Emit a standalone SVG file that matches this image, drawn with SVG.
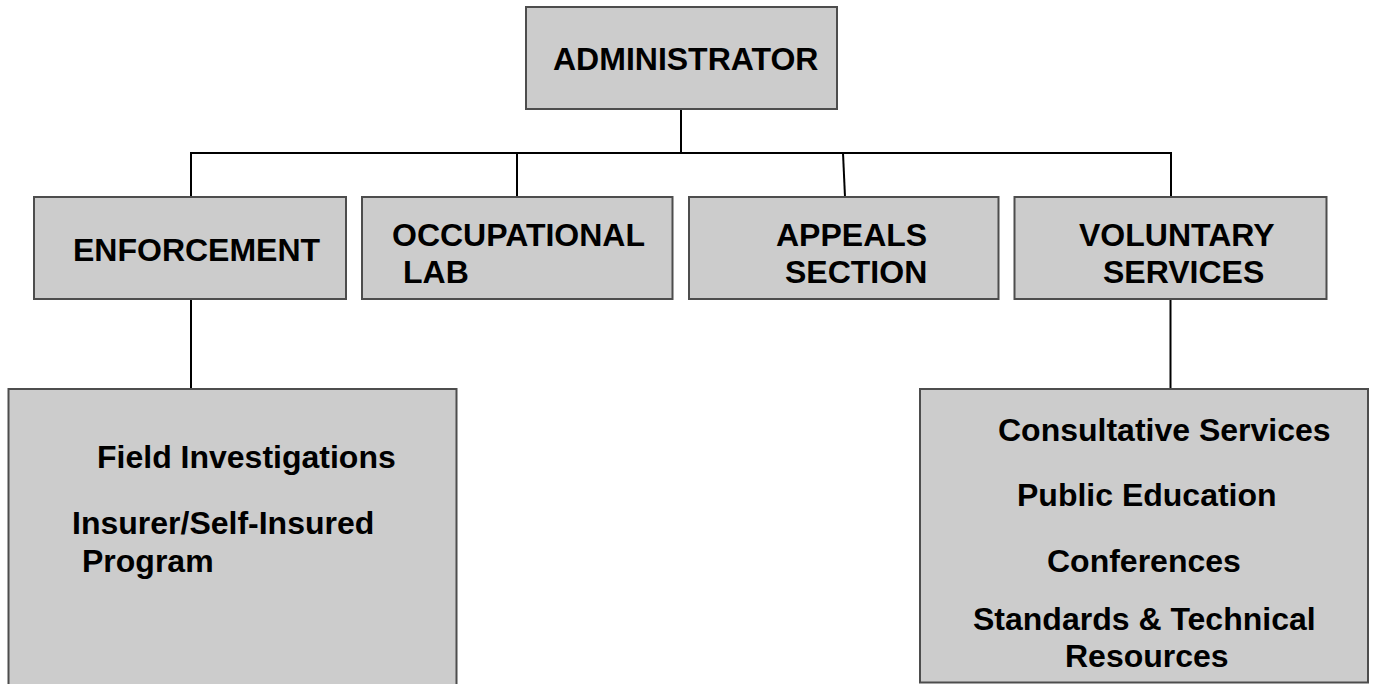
<svg xmlns="http://www.w3.org/2000/svg" width="1374" height="684" viewBox="0 0 1374 684">
<style>
.box{fill:#cccccc;stroke:#4d4d4d;stroke-width:2}
.t{font-family:"Liberation Sans",Arial,sans-serif;font-weight:bold;font-size:32px;fill:#000}
.c{fill:none;stroke:#000;stroke-width:2}
</style>
<rect width="1374" height="684" fill="#fff"/>
<g id="connectors">
<line class="c" x1="681" y1="109" x2="681" y2="153"/>
<line class="c" x1="190" y1="153" x2="1172" y2="153"/>
<line class="c" x1="191" y1="153" x2="191" y2="197"/>
<line class="c" x1="517" y1="153" x2="517" y2="197"/>
<line class="c" x1="843" y1="153" x2="845" y2="197"/>
<line class="c" x1="1171" y1="153" x2="1171" y2="197"/>
<line class="c" x1="191" y1="299" x2="191" y2="389"/>
<line class="c" x1="1170.5" y1="299" x2="1170.5" y2="388"/>
</g>
<g id="administrator">
<rect class="box" x="526" y="7" width="311" height="102"/>
<text class="t" x="553" y="70">ADMINISTRATOR</text>
</g>
<g id="enforcement">
<rect class="box" x="34" y="197" width="312" height="102"/>
<text class="t" x="73" y="261">ENFORCEMENT</text>
</g>
<g id="occupational-lab">
<rect class="box" x="362" y="197" width="310.5" height="102"/>
<text class="t" x="392" y="246">OCCUPATIONAL</text>
<text class="t" x="403" y="283">LAB</text>
</g>
<g id="appeals-section">
<rect class="box" x="689" y="197" width="309.5" height="102"/>
<text class="t" x="776" y="246">APPEALS</text>
<text class="t" x="785" y="283">SECTION</text>
</g>
<g id="voluntary-services">
<rect class="box" x="1014.5" y="197" width="312" height="102"/>
<text class="t" x="1079" y="246">VOLUNTARY</text>
<text class="t" x="1103" y="283">SERVICES</text>
</g>
<g id="enforcement-programs">
<rect class="box" x="8.5" y="389" width="448" height="310"/>
<text class="t" x="97" y="468">Field Investigations</text>
<text class="t" x="72" y="534">Insurer/Self-Insured</text>
<text class="t" x="82" y="572">Program</text>
</g>
<g id="voluntary-programs">
<rect class="box" x="920" y="389" width="448" height="293.5"/>
<text class="t" x="998" y="441">Consultative Services</text>
<text class="t" x="1017" y="506">Public Education</text>
<text class="t" x="1047" y="572">Conferences</text>
<text class="t" x="973" y="630">Standards &amp; Technical</text>
<text class="t" x="1065" y="667">Resources</text>
</g>
</svg>
